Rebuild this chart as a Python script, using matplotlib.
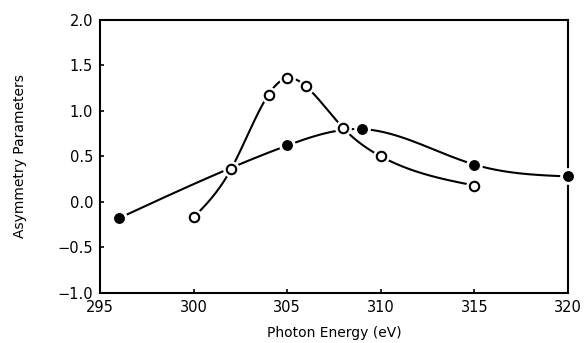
import numpy as np
import matplotlib.pyplot as plt

# Puntos
x_lleno = [296, 305, 309, 315, 320]
y_lleno = [-0.18, 0.62, 0.80, 0.41, 0.28]

x_vacio = [300, 302, 304, 305, 306, 308, 310, 315]
y_vacio = [-0.17, 0.36, 1.18, 1.36, 1.27, 0.81, 0.50, 0.18]


def spline_natural(x, y, n=300):
    # spline cubico natural para dibujar la curva suave entre los puntos
    x = np.asarray(x, float)
    y = np.asarray(y, float)
    h = np.diff(x)
    m = len(x)
    A = np.zeros((m, m))
    b = np.zeros(m)
    A[0, 0] = A[-1, -1] = 1
    for i in range(1, m - 1):
        A[i, i - 1] = h[i - 1]
        A[i, i] = 2 * (h[i - 1] + h[i])
        A[i, i + 1] = h[i]
        b[i] = 6 * ((y[i + 1] - y[i]) / h[i] - (y[i] - y[i - 1]) / h[i - 1])
    M = np.linalg.solve(A, b)
    xs = np.linspace(x[0], x[-1], n)
    k = np.clip(np.searchsorted(x, xs) - 1, 0, m - 2)
    t1 = x[k + 1] - xs
    t0 = xs - x[k]
    hk = h[k]
    ys = (M[k] * t1**3 + M[k + 1] * t0**3) / (6 * hk) \
        + (y[k] / hk - M[k] * hk / 6) * t1 + (y[k + 1] / hk - M[k + 1] * hk / 6) * t0
    return xs, ys


fig = plt.figure(figsize=(5.85, 3.43), dpi=100)
ax = fig.add_axes([0.171, 0.146, 0.8, 0.796])

xs, ys = spline_natural(x_lleno, y_lleno)
ax.plot(xs, ys, color='black', lw=1.5, zorder=2)
xs, ys = spline_natural(x_vacio, y_vacio)
ax.plot(xs, ys, color='black', lw=1.5, zorder=2)

# halo blanco para cortar la linea alrededor de cada marcador
ax.plot(x_lleno, y_lleno, 'o', ms=11, color='white', zorder=3, clip_on=False)
ax.plot(x_vacio, y_vacio, 'o', ms=11, color='white', zorder=3, clip_on=False)
ax.plot(x_lleno, y_lleno, 'o', ms=6.8, color='black', zorder=4, clip_on=False)
ax.plot(x_vacio, y_vacio, 'o', ms=6.8, mfc='white', mec='black', mew=1.5, zorder=4, clip_on=False)

ax.set_xlim(295, 320)
ax.set_ylim(-1.0, 2.0)
ax.set_xticks(np.arange(295, 321, 5))
ax.set_yticks(np.arange(-1.0, 2.01, 0.5))
ax.set_yticklabels(['\u22121.0', '\u22120.5', '0.0', '0.5', '1.0', '1.5', '2.0'])
ax.tick_params(direction='in', length=3, width=1.2, labelsize=10.5, pad=5)
for s in ax.spines.values():
    s.set_linewidth(1.5)

ax.set_xlabel('Photon Energy (eV)', fontsize=10, labelpad=8)
ax.set_ylabel('Asymmetry Parameters', fontsize=10, labelpad=22)

fig.savefig('out.png', dpi=100)
